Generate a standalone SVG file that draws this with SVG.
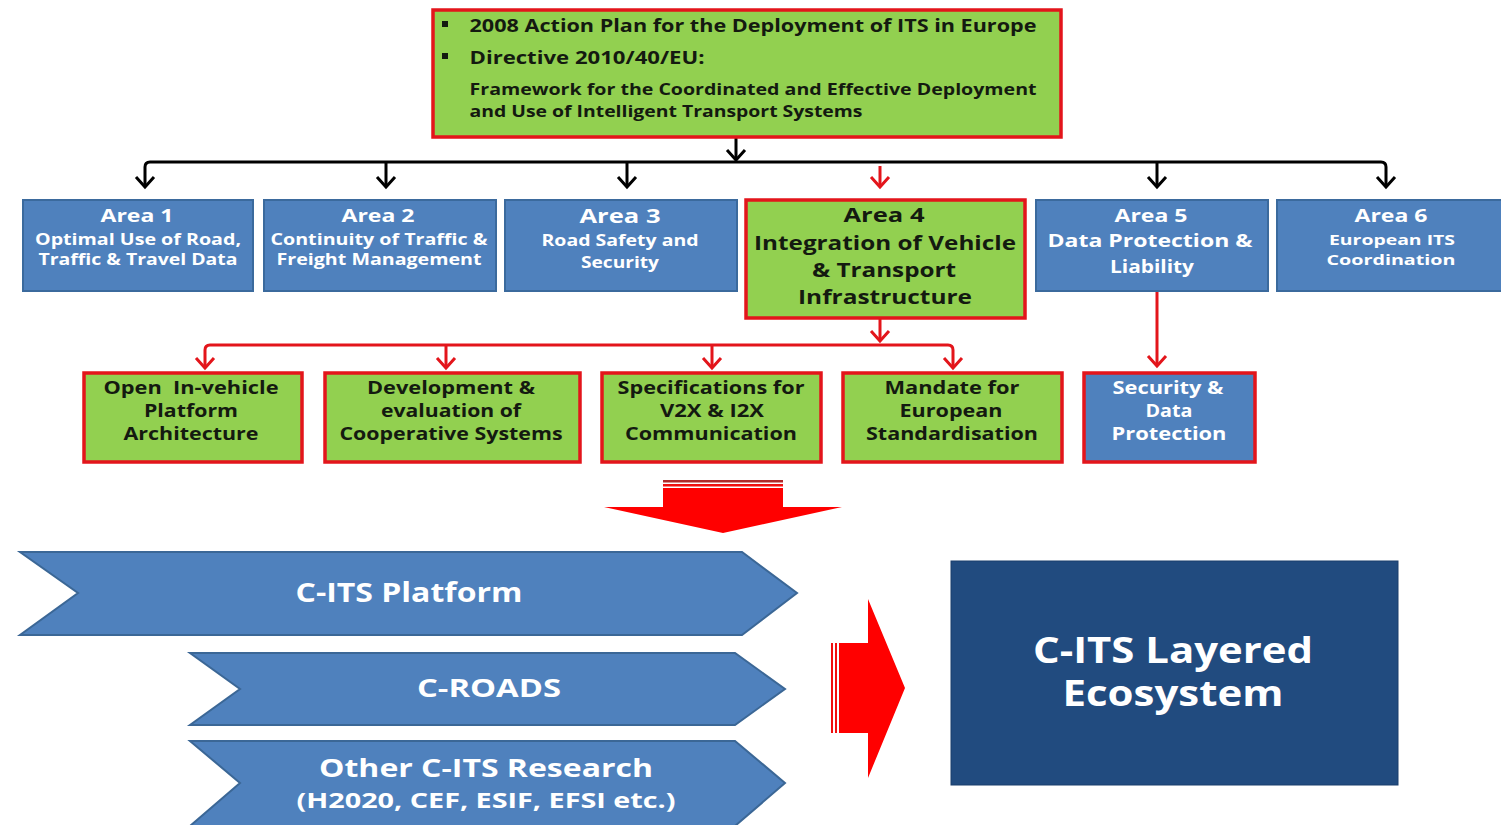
<svg xmlns="http://www.w3.org/2000/svg" width="1501" height="825" viewBox="0 0 1501 825">
<style>
text{font-family:"Open Sans","Liberation Sans",sans-serif;font-weight:700;text-anchor:middle;white-space:pre}
.dk{fill:#141a10}
.wt{fill:#ffffff}
.gbox{fill:#92D050;stroke:#E3151B;stroke-width:3.5}
.bbox{fill:#4F81BD;stroke:#3B6A9D;stroke-width:2}
.rbbox{fill:#4F81BD;stroke:#E3151B;stroke-width:3.5}
.chev{fill:#4F81BD;stroke:#3B6796;stroke-width:2}
.blk{fill:none;stroke:#000;stroke-width:3}
.red{fill:none;stroke:#E3151B;stroke-width:3}
</style>
<defs>
<marker id="ab" markerUnits="userSpaceOnUse" markerWidth="24" markerHeight="24" refX="12" refY="12" orient="auto" overflow="visible">
<path d="M2,3 L12,12 L2,21" fill="none" stroke="#000" stroke-width="3"/>
</marker>
<marker id="ar" markerUnits="userSpaceOnUse" markerWidth="24" markerHeight="24" refX="12" refY="12" orient="auto" overflow="visible">
<path d="M2,3 L12,12 L2,21" fill="none" stroke="#E3151B" stroke-width="3"/>
</marker>
</defs>

<g id="connectors">
<path class="blk" d="M736,137 L736,160" marker-end="url(#ab)"/>
<path class="blk" d="M736,162 L150,162 Q145,162 145,167 L145,187" marker-end="url(#ab)"/>
<path class="blk" d="M736,162 L1381,162 Q1386,162 1386,167 L1386,187" marker-end="url(#ab)"/>
<path class="blk" d="M386,162 L386,187" marker-end="url(#ab)"/>
<path class="blk" d="M627,162 L627,187" marker-end="url(#ab)"/>
<path class="blk" d="M1157,162 L1157,187" marker-end="url(#ab)"/>
<path class="red" d="M880,166 L880,187" marker-end="url(#ar)"/>
<path class="red" d="M880,318 L880,341" marker-end="url(#ar)"/>
<path class="red" d="M712,345 L210,345 Q205,345 205,350 L205,368" marker-end="url(#ar)"/>
<path class="red" d="M712,345 L948,345 Q953,345 953,350 L953,368" marker-end="url(#ar)"/>
<path class="red" d="M446,345 L446,368" marker-end="url(#ar)"/>
<path class="red" d="M712,345 L712,368" marker-end="url(#ar)"/>
<path class="red" d="M1157,291 L1157,366" marker-end="url(#ar)"/>
</g>

<g id="top">
<rect class="gbox" x="433" y="10" width="628" height="127"/>
<rect x="442" y="21" width="6" height="6" fill="#141a10"/>
<rect x="442" y="53" width="6" height="6" fill="#141a10"/>
<text class="dk" x="753" y="32" font-size="18" textLength="567" lengthAdjust="spacingAndGlyphs">2008 Action Plan for the Deployment of ITS in Europe</text>
<text class="dk" x="587" y="64" font-size="18" textLength="235" lengthAdjust="spacingAndGlyphs">Directive 2010/40/EU:</text>
<text class="dk" x="753" y="95" font-size="16" textLength="567" lengthAdjust="spacingAndGlyphs">Framework for the Coordinated and Effective Deployment</text>
<text class="dk" x="666" y="117" font-size="16" textLength="393" lengthAdjust="spacingAndGlyphs">and Use of Intelligent Transport Systems</text>
</g>

<g id="area1">
<rect class="bbox" x="23" y="200" width="230" height="91"/>
<text class="wt" x="137" y="222" font-size="18" textLength="73" lengthAdjust="spacingAndGlyphs">Area 1</text>
<text class="wt" x="138" y="245" font-size="16" textLength="206" lengthAdjust="spacingAndGlyphs">Optimal Use of Road,</text>
<text class="wt" x="138" y="265" font-size="16" textLength="199" lengthAdjust="spacingAndGlyphs">Traffic &amp; Travel Data</text>
</g>
<g id="area2">
<rect class="bbox" x="264" y="200" width="232" height="91"/>
<text class="wt" x="378" y="222" font-size="18" textLength="73" lengthAdjust="spacingAndGlyphs">Area 2</text>
<text class="wt" x="379" y="245" font-size="16" textLength="217" lengthAdjust="spacingAndGlyphs">Continuity of Traffic &amp;</text>
<text class="wt" x="379" y="265" font-size="16" textLength="205" lengthAdjust="spacingAndGlyphs">Freight Management</text>
</g>
<g id="area3">
<rect class="bbox" x="505" y="200" width="232" height="91"/>
<text class="wt" x="620" y="223" font-size="20" textLength="81" lengthAdjust="spacingAndGlyphs">Area 3</text>
<text class="wt" x="620" y="246" font-size="16" textLength="157" lengthAdjust="spacingAndGlyphs">Road Safety and</text>
<text class="wt" x="620" y="268" font-size="16" textLength="78" lengthAdjust="spacingAndGlyphs">Security</text>
</g>
<g id="area4">
<rect class="gbox" x="746" y="200" width="279" height="118"/>
<text class="dk" x="884" y="222" font-size="19" textLength="81" lengthAdjust="spacingAndGlyphs">Area 4</text>
<text class="dk" x="885" y="250" font-size="20" textLength="262" lengthAdjust="spacingAndGlyphs">Integration of Vehicle</text>
<text class="dk" x="884" y="277" font-size="20" textLength="144" lengthAdjust="spacingAndGlyphs">&amp; Transport</text>
<text class="dk" x="885" y="304" font-size="20" textLength="174" lengthAdjust="spacingAndGlyphs">Infrastructure</text>
</g>
<g id="area5">
<rect class="bbox" x="1036" y="200" width="232" height="91"/>
<text class="wt" x="1151" y="222" font-size="18" textLength="73" lengthAdjust="spacingAndGlyphs">Area 5</text>
<text class="wt" x="1150" y="247" font-size="18" textLength="205" lengthAdjust="spacingAndGlyphs">Data Protection &amp;</text>
<text class="wt" x="1152" y="273" font-size="18" textLength="84" lengthAdjust="spacingAndGlyphs">Liability</text>
</g>
<g id="area6">
<rect class="bbox" x="1277" y="200" width="230" height="91"/>
<text class="wt" x="1391" y="222" font-size="18" textLength="73" lengthAdjust="spacingAndGlyphs">Area 6</text>
<text class="wt" x="1392" y="245" font-size="15" textLength="126" lengthAdjust="spacingAndGlyphs">European ITS</text>
<text class="wt" x="1391" y="265" font-size="15" textLength="129" lengthAdjust="spacingAndGlyphs">Coordination</text>
</g>

<g id="sub1">
<rect class="gbox" x="84" y="373" width="218" height="89"/>
<text class="dk" x="191" y="394" font-size="17" textLength="175" lengthAdjust="spacingAndGlyphs" xml:space="preserve">Open  In-vehicle</text>
<text class="dk" x="191" y="417" font-size="17" textLength="94" lengthAdjust="spacingAndGlyphs">Platform</text>
<text class="dk" x="191" y="440" font-size="17" textLength="135" lengthAdjust="spacingAndGlyphs">Architecture</text>
</g>
<g id="sub2">
<rect class="gbox" x="325" y="373" width="255" height="89"/>
<text class="dk" x="451" y="394" font-size="17" textLength="168" lengthAdjust="spacingAndGlyphs">Development &amp;</text>
<text class="dk" x="451" y="417" font-size="17" textLength="140" lengthAdjust="spacingAndGlyphs">evaluation of</text>
<text class="dk" x="451" y="440" font-size="17" textLength="223" lengthAdjust="spacingAndGlyphs">Cooperative Systems</text>
</g>
<g id="sub3">
<rect class="gbox" x="602" y="373" width="219" height="89"/>
<text class="dk" x="711" y="394" font-size="17" textLength="187" lengthAdjust="spacingAndGlyphs">Specifications for</text>
<text class="dk" x="712" y="417" font-size="17" textLength="104" lengthAdjust="spacingAndGlyphs">V2X &amp; I2X</text>
<text class="dk" x="711" y="440" font-size="17" textLength="172" lengthAdjust="spacingAndGlyphs">Communication</text>
</g>
<g id="sub4">
<rect class="gbox" x="843" y="373" width="219" height="89"/>
<text class="dk" x="952" y="394" font-size="17" textLength="135" lengthAdjust="spacingAndGlyphs">Mandate for</text>
<text class="dk" x="951" y="417" font-size="17" textLength="103" lengthAdjust="spacingAndGlyphs">European</text>
<text class="dk" x="952" y="440" font-size="17" textLength="172" lengthAdjust="spacingAndGlyphs">Standardisation</text>
</g>
<g id="sub5">
<rect class="rbbox" x="1084" y="373" width="171" height="89"/>
<text class="wt" x="1168" y="394" font-size="17" textLength="111" lengthAdjust="spacingAndGlyphs">Security &amp;</text>
<text class="wt" x="1169" y="417" font-size="17" textLength="47" lengthAdjust="spacingAndGlyphs">Data</text>
<text class="wt" x="1169" y="440" font-size="17" textLength="115" lengthAdjust="spacingAndGlyphs">Protection</text>
</g>

<g id="down-arrow">
<rect x="663" y="480" width="120" height="2.5" fill="#B02A2A"/>
<rect x="663" y="484" width="120" height="2.5" fill="#F01010"/>
<polygon points="663,488 783,488 783,507 842,507 723,533 604,507 663,507" fill="#FF0000"/>
</g>

<g id="chev1">
<polygon class="chev" points="20,552 742,552 797,593 742,635 20,635 78,593"/>
<text class="wt" x="409" y="602" font-size="26" textLength="227" lengthAdjust="spacingAndGlyphs">C-ITS Platform</text>
</g>
<g id="chev2">
<polygon class="chev" points="190,653 735,653 785,689 735,725 190,725 240,689"/>
<text class="wt" x="489" y="697" font-size="25" textLength="144" lengthAdjust="spacingAndGlyphs">C-ROADS</text>
</g>
<g id="chev3">
<polygon class="chev" points="190,741 735,741 785,783 735,826 190,826 240,783"/>
<text class="wt" x="486" y="777" font-size="25" textLength="334" lengthAdjust="spacingAndGlyphs">Other C-ITS Research</text>
<text class="wt" x="486" y="808" font-size="22" textLength="379" lengthAdjust="spacingAndGlyphs">(H2020, CEF, ESIF, EFSI etc.)</text>
</g>

<g id="right-arrow">
<rect x="831" y="643" width="2" height="90" fill="#F01010"/>
<rect x="835" y="643" width="2" height="90" fill="#F01010"/>
<polygon points="839,643 868,643 868,599 905,688 868,778 868,733 839,733" fill="#FF0000"/>
</g>

<g id="ecosystem">
<rect x="951" y="561" width="447" height="224" fill="#214B7F" stroke="#1B3F6C" stroke-width="1"/>
<text class="wt" x="1173" y="663" font-size="35" textLength="280" lengthAdjust="spacingAndGlyphs">C-ITS Layered</text>
<text class="wt" x="1173" y="706" font-size="35" textLength="221" lengthAdjust="spacingAndGlyphs">Ecosystem</text>
</g>
</svg>
